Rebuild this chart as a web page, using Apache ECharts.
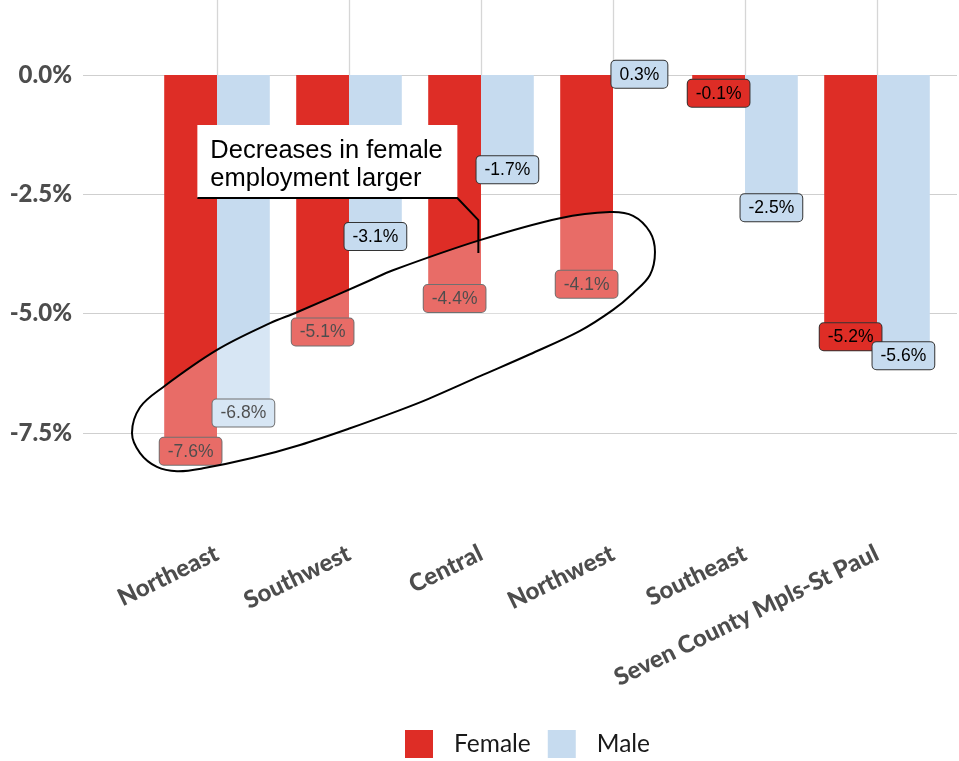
<!DOCTYPE html>
<html style="height: 100%">
<head>
<meta charset="utf-8">
</head>
<body style="height: 100%; margin: 0">
<div id="container" style="width: 959px; height: 761px"></div>
<script src="https://cdn.jsdelivr.net/npm/echarts@6/dist/echarts.min.js"></script>
<script>
// employment change by region, female vs male (%)
var regions = ['Northeast', 'Southwest', 'Central', 'Northwest', 'Southeast', 'Seven County Mpls-St Paul'];
var female = [-7.6, -5.1, -4.4, -4.1, -0.1, -5.2];
var male = [-6.8, -3.1, -1.7, 0.3, -2.5, -5.6];

// hand drawn ring around the regions, in [category position, value] units
var ringPts = [
    [-0.644, -7.50], [-0.583, -6.96], [-0.409, -6.54], [0, -5.76], [0.402, -5.20],
    [0.606, -4.97], [1.144, -4.32], [1.333, -4.09], [1.992, -3.46], [2.598, -3.00],
    [2.977, -2.87], [3.152, -2.95], [3.280, -3.29], [3.318, -3.71], [3.280, -4.19],
    [3.152, -4.57], [3.0, -4.92], [2.75, -5.36], [2.371, -5.85], [1.992, -6.31],
    [1.598, -6.79], [1.386, -7.02], [1.008, -7.40], [0.629, -7.75], [0.273, -8.02],
    [-0.106, -8.24], [-0.303, -8.30], [-0.455, -8.21], [-0.583, -7.92]
];
var noteAnchor = [1.98, -3.73];
var noteText = 'Decreases in female\nemployment larger';

var RED = '#de2d26';
var BLUE = '#c6dbef';
var AXIS_FONT = 'Lato';

var labelData = [];
female.forEach(function (v, i) { labelData.push([i, v, 0]); });
male.forEach(function (v, i) { labelData.push([i, v, 1]); });

var dom = document.getElementById('container');
var myChart = echarts.init(dom);

function catX(api, pos, v) {
    var p = api.coord([0, v]);
    var band = api.size([1, 0])[0];
    return [p[0] + pos * band, p[1]];
}

var option = {
    animation: false,
    backgroundColor: '#fff',
    legend: {
        data: ['Female', 'Male'],
        left: 400,
        top: 725,
        itemWidth: 28,
        itemHeight: 28,
        itemGap: 17,
        icon: 'rect',
        textStyle: {
            fontFamily: AXIS_FONT,
            fontSize: 24.5,
            color: '#1a1a1a',
            padding: [0, 0, 0, 16]
        }
    },
    grid: [
        {left: 83, right: 2, top: 75, bottom: 328},
        {left: 151, right: 16, top: 5, bottom: 233}
    ],
    xAxis: [
        {gridIndex: 0, type: 'value', show: false, min: 0, max: 1},
        {
            gridIndex: 1,
            type: 'category',
            data: regions,
            axisLine: {show: false},
            axisTick: {
                show: true,
                alignWithLabel: true,
                inside: true,
                length: 523,
                lineStyle: {color: '#d6d6d6', width: 1.3}
            },
            axisLabel: {
                rotate: 26,
                margin: 24,
                fontFamily: AXIS_FONT,
                fontWeight: 900,
                fontSize: 24,
                color: '#4d4d4d'
            }
        }
    ],
    yAxis: [
        {
            gridIndex: 0,
            type: 'value',
            min: -7.5,
            max: 0,
            interval: 2.5,
            axisLine: {show: false},
            axisTick: {show: false},
            splitLine: {lineStyle: {color: '#cfcfcf', width: 1.2}},
            axisLabel: {
                margin: 11,
                fontFamily: AXIS_FONT,
                fontWeight: 900,
                fontSize: 24,
                color: '#4d4d4d',
                formatter: function (v) { return v.toFixed(1) + '%'; }
            }
        },
        {
            gridIndex: 1,
            type: 'value',
            min: -9.49,
            max: 1.4665,
            show: false,
            splitLine: {show: false}
        }
    ],
    series: [
        {
            name: 'Female',
            type: 'bar',
            xAxisIndex: 1,
            yAxisIndex: 1,
            data: female,
            barGap: '0%',
            barCategoryGap: '20%',
            itemStyle: {color: RED},
            z: 2
        },
        {
            name: 'Male',
            type: 'bar',
            xAxisIndex: 1,
            yAxisIndex: 1,
            data: male,
            barGap: '0%',
            barCategoryGap: '20%',
            itemStyle: {color: BLUE},
            z: 2
        },
        {
            type: 'custom',
            xAxisIndex: 1,
            yAxisIndex: 1,
            data: labelData,
            z: 3,
            renderItem: function (params, api) {
                var i = api.value(0), v = api.value(1), s = api.value(2);
                var p = catX(api, i + (s === 0 ? -0.2 : 0.2), v);
                return {
                    type: 'text',
                    x: p[0],
                    y: p[1],
                    style: {
                        text: v.toFixed(1) + '%',
                        align: 'center',
                        verticalAlign: 'top',
                        fontFamily: '"Liberation Sans", Arial, sans-serif',
                        fontSize: 17.5,
                        fill: '#000',
                        backgroundColor: s === 0 ? RED : BLUE,
                        borderColor: '#333',
                        borderWidth: 1,
                        borderRadius: 4,
                        padding: [5, 8, 4, 8]
                    }
                };
            }
        },
        {
            type: 'custom',
            xAxisIndex: 1,
            yAxisIndex: 1,
            data: [[0, 0]],
            z: 4,
            renderItem: function (params, api) {
                var pts = ringPts.map(function (d) { return catX(api, d[0], d[1]); });
                return {
                    type: 'polygon',
                    shape: {points: pts, smooth: 0.35},
                    style: {fill: 'rgba(255,255,255,0.3)', stroke: '#000', lineWidth: 2}
                };
            }
        },
        {
            type: 'custom',
            xAxisIndex: 1,
            yAxisIndex: 1,
            data: [[0, 0]],
            z: 5,
            renderItem: function (params, api) {
                var a = catX(api, noteAnchor[0], noteAnchor[1]);
                var x = a[0], y = a[1];
                return {
                    type: 'group',
                    children: [
                        {
                            type: 'rect',
                            shape: {x: x - 281, y: y - 128, width: 260, height: 73},
                            style: {fill: '#fff'}
                        },
                        {
                            type: 'polyline',
                            shape: {points: [[x - 281, y - 55], [x - 21, y - 55], [x, y - 33], [x, y]]},
                            style: {stroke: '#000', lineWidth: 2, fill: null}
                        },
                        {
                            type: 'text',
                            x: x - 268,
                            y: y - 116,
                            style: {
                                text: noteText,
                                fontFamily: '"Liberation Sans", Arial, sans-serif',
                                fontSize: 25.5,
                                lineHeight: 28,
                                fill: '#000',
                                verticalAlign: 'top'
                            }
                        }
                    ]
                };
            }
        }
    ]
};

if (option && typeof option === 'object') {
    myChart.setOption(option, true);
}
</script>
</body>
</html>
